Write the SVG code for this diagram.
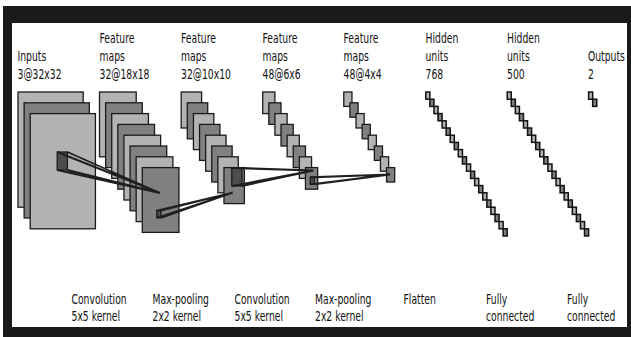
<svg xmlns="http://www.w3.org/2000/svg" width="631" height="337" viewBox="0 0 631 337">
<style>
.L{fill:#b3b3b3;stroke:#1a1a1a;stroke-width:1.3}
.M{fill:#808080;stroke:#1a1a1a;stroke-width:1.3}
.D{fill:#4d4d4d;stroke:#1a1a1a;stroke-width:1.3}
.f .L,.f .M{stroke:#111;stroke-width:1.5}
.ln{stroke:#1f1f1f;stroke-width:1.9;fill:none}
.t{font-family:"DejaVu Sans",sans-serif;font-size:13.8px;fill:#111}
</style>
<rect x="0" y="0" width="631" height="337" fill="#ffffff"/>
<path d="M3,6H631V337H3Z M12,23V327H627V23Z" fill="#1a1a1a" fill-rule="evenodd"/>

<g id="inputs">
<g transform="translate(18,92)">
<rect class="L" x="0" y="0" width="65.2" height="115.2"/>
<rect class="M" x="6.11" y="10.8" width="65.2" height="115.2"/>
<rect class="L" x="12.22" y="21.6" width="65.2" height="115.2"/>
</g>
<text class="t" transform="translate(17.5,61) scale(0.67,1)"><tspan x="0" y="0">Inputs</tspan><tspan x="0" y="18">3@32x32</tspan></text>
</g>

<g id="conv1">
<g transform="translate(99.5,92)">
<rect class="L" x="0" y="0" width="36.7" height="64.8"/>
<rect class="M" x="6.11" y="10.8" width="36.7" height="64.8"/>
<rect class="L" x="12.22" y="21.6" width="36.7" height="64.8"/>
<rect class="M" x="18.33" y="32.4" width="36.7" height="64.8"/>
<rect class="L" x="24.44" y="43.2" width="36.7" height="64.8"/>
<rect class="M" x="30.55" y="54" width="36.7" height="64.8"/>
<rect class="L" x="36.66" y="64.8" width="36.7" height="64.8"/>
<rect class="M" x="42.77" y="75.6" width="36.7" height="64.8"/>
</g>
<text class="t" transform="translate(99.5,43) scale(0.67,1)"><tspan x="0" y="0">Feature</tspan><tspan x="0" y="18">maps</tspan><tspan x="0" y="36">32@18x18</tspan></text>
</g>

<g id="pool1">
<g transform="translate(181.2,92)">
<rect class="L" x="0" y="0" width="20.4" height="36"/>
<rect class="M" x="6.11" y="10.8" width="20.4" height="36"/>
<rect class="L" x="12.22" y="21.6" width="20.4" height="36"/>
<rect class="M" x="18.33" y="32.4" width="20.4" height="36"/>
<rect class="L" x="24.44" y="43.2" width="20.4" height="36"/>
<rect class="M" x="30.55" y="54" width="20.4" height="36"/>
<rect class="L" x="36.66" y="64.8" width="20.4" height="36"/>
<rect class="M" x="42.77" y="75.6" width="20.4" height="36"/>
</g>
<text class="t" transform="translate(181,43) scale(0.67,1)"><tspan x="0" y="0">Feature</tspan><tspan x="0" y="18">maps</tspan><tspan x="0" y="36">32@10x10</tspan></text>
</g>

<g id="conv2">
<g transform="translate(262.7,92)">
<rect class="L" x="0" y="0" width="12.2" height="21.6"/>
<rect class="M" x="6.11" y="10.8" width="12.2" height="21.6"/>
<rect class="L" x="12.22" y="21.6" width="12.2" height="21.6"/>
<rect class="M" x="18.33" y="32.4" width="12.2" height="21.6"/>
<rect class="L" x="24.44" y="43.2" width="12.2" height="21.6"/>
<rect class="M" x="30.55" y="54" width="12.2" height="21.6"/>
<rect class="L" x="36.66" y="64.8" width="12.2" height="21.6"/>
<rect class="M" x="42.77" y="75.6" width="12.2" height="21.6"/>
</g>
<text class="t" transform="translate(262.5,43) scale(0.67,1)"><tspan x="0" y="0">Feature</tspan><tspan x="0" y="18">maps</tspan><tspan x="0" y="36">48@6x6</tspan></text>
</g>

<g id="pool2">
<g transform="translate(343.8,92)">
<rect class="L" x="0" y="0" width="8.15" height="14.4"/>
<rect class="M" x="6.11" y="10.8" width="8.15" height="14.4"/>
<rect class="L" x="12.22" y="21.6" width="8.15" height="14.4"/>
<rect class="M" x="18.33" y="32.4" width="8.15" height="14.4"/>
<rect class="L" x="24.44" y="43.2" width="8.15" height="14.4"/>
<rect class="M" x="30.55" y="54" width="8.15" height="14.4"/>
<rect class="L" x="36.66" y="64.8" width="8.15" height="14.4"/>
<rect class="M" x="42.77" y="75.6" width="8.15" height="14.4"/>
</g>
<text class="t" transform="translate(343.5,43) scale(0.67,1)"><tspan x="0" y="0">Feature</tspan><tspan x="0" y="18">maps</tspan><tspan x="0" y="36">48@4x4</tspan></text>
</g>

<g id="fc1" class="f">
<g transform="translate(425.8,92)">
<rect class="L" x="0" y="0" width="4.07" height="7.2"/>
<rect class="M" x="4.07" y="7.2" width="4.07" height="7.2"/>
<rect class="L" x="8.14" y="14.4" width="4.07" height="7.2"/>
<rect class="M" x="12.21" y="21.6" width="4.07" height="7.2"/>
<rect class="L" x="16.28" y="28.8" width="4.07" height="7.2"/>
<rect class="M" x="20.35" y="36" width="4.07" height="7.2"/>
<rect class="L" x="24.42" y="43.2" width="4.07" height="7.2"/>
<rect class="M" x="28.49" y="50.4" width="4.07" height="7.2"/>
<rect class="L" x="32.56" y="57.6" width="4.07" height="7.2"/>
<rect class="M" x="36.63" y="64.8" width="4.07" height="7.2"/>
<rect class="L" x="40.7" y="72" width="4.07" height="7.2"/>
<rect class="M" x="44.77" y="79.2" width="4.07" height="7.2"/>
<rect class="L" x="48.84" y="86.4" width="4.07" height="7.2"/>
<rect class="M" x="52.91" y="93.6" width="4.07" height="7.2"/>
<rect class="L" x="56.98" y="100.8" width="4.07" height="7.2"/>
<rect class="M" x="61.05" y="108" width="4.07" height="7.2"/>
<rect class="L" x="65.12" y="115.2" width="4.07" height="7.2"/>
<rect class="M" x="69.19" y="122.4" width="4.07" height="7.2"/>
<rect class="L" x="73.26" y="129.6" width="4.07" height="7.2"/>
<rect class="M" x="77.33" y="136.8" width="4.07" height="7.2"/>
</g>
<text class="t" transform="translate(425.5,43) scale(0.67,1)"><tspan x="0" y="0">Hidden</tspan><tspan x="0" y="18">units</tspan><tspan x="0" y="36">768</tspan></text>
</g>

<g id="fc2" class="f">
<g transform="translate(507.2,92)">
<rect class="L" x="0" y="0" width="4.07" height="7.2"/>
<rect class="M" x="4.07" y="7.2" width="4.07" height="7.2"/>
<rect class="L" x="8.14" y="14.4" width="4.07" height="7.2"/>
<rect class="M" x="12.21" y="21.6" width="4.07" height="7.2"/>
<rect class="L" x="16.28" y="28.8" width="4.07" height="7.2"/>
<rect class="M" x="20.35" y="36" width="4.07" height="7.2"/>
<rect class="L" x="24.42" y="43.2" width="4.07" height="7.2"/>
<rect class="M" x="28.49" y="50.4" width="4.07" height="7.2"/>
<rect class="L" x="32.56" y="57.6" width="4.07" height="7.2"/>
<rect class="M" x="36.63" y="64.8" width="4.07" height="7.2"/>
<rect class="L" x="40.7" y="72" width="4.07" height="7.2"/>
<rect class="M" x="44.77" y="79.2" width="4.07" height="7.2"/>
<rect class="L" x="48.84" y="86.4" width="4.07" height="7.2"/>
<rect class="M" x="52.91" y="93.6" width="4.07" height="7.2"/>
<rect class="L" x="56.98" y="100.8" width="4.07" height="7.2"/>
<rect class="M" x="61.05" y="108" width="4.07" height="7.2"/>
<rect class="L" x="65.12" y="115.2" width="4.07" height="7.2"/>
<rect class="M" x="69.19" y="122.4" width="4.07" height="7.2"/>
<rect class="L" x="73.26" y="129.6" width="4.07" height="7.2"/>
<rect class="M" x="77.33" y="136.8" width="4.07" height="7.2"/>
</g>
<text class="t" transform="translate(507,43) scale(0.67,1)"><tspan x="0" y="0">Hidden</tspan><tspan x="0" y="18">units</tspan><tspan x="0" y="36">500</tspan></text>
</g>

<g id="outputs" class="f">
<g transform="translate(588.6,92)">
<rect class="L" x="0" y="0" width="4.07" height="7.2"/>
<rect class="M" x="4.07" y="7.2" width="4.07" height="7.2"/>
</g>
<text class="t" transform="translate(588,61) scale(0.67,1)"><tspan x="0" y="0">Outputs</tspan><tspan x="0" y="18">2</tspan></text>
</g>

<g id="connectors">
<g id="map1">
<rect class="D" x="57.2" y="152" width="10.2" height="18"/>
<path class="ln" d="M57.2,152L160,193M67.4,152L160,193M57.2,170L160,193M67.4,170L160,193"/>
</g>
<g id="map2">
<rect class="D" x="156.8" y="210.6" width="4.07" height="7.2"/>
<path class="ln" d="M156.8,210.6L232.7,192.7M160.9,210.6L232.7,192.7M156.8,217.8L232.7,192.7M160.9,217.8L232.7,192.7"/>
</g>
<g id="map3">
<rect class="D" x="231.8" y="168" width="10.2" height="18"/>
<path class="ln" d="M231.8,168L313.5,170.5M242,168L313.5,170.5M231.8,186L313.5,170.5M242,186L313.5,170.5"/>
</g>
<g id="map4">
<rect class="D" x="310.2" y="177.2" width="4.07" height="7.2"/>
<path class="ln" d="M310.2,177.2L390,174.5M314.3,177.2L390,174.5M310.2,184.4L390,174.5M314.3,184.4L390,174.5"/>
</g>
</g>

<g id="operation-labels">
<text class="t" transform="translate(71.5,303.5) scale(0.67,1)"><tspan x="0" y="0">Convolution</tspan><tspan x="0" y="18">5x5 kernel</tspan></text>
<text class="t" transform="translate(152.5,303.5) scale(0.67,1)"><tspan x="0" y="0">Max-pooling</tspan><tspan x="0" y="18">2x2 kernel</tspan></text>
<text class="t" transform="translate(234.5,303.5) scale(0.67,1)"><tspan x="0" y="0">Convolution</tspan><tspan x="0" y="18">5x5 kernel</tspan></text>
<text class="t" transform="translate(315,303.5) scale(0.67,1)"><tspan x="0" y="0">Max-pooling</tspan><tspan x="0" y="18">2x2 kernel</tspan></text>
<text class="t" transform="translate(403.5,303.5) scale(0.67,1)"><tspan x="0" y="0">Flatten</tspan></text>
<text class="t" transform="translate(486,303.5) scale(0.67,1)"><tspan x="0" y="0">Fully</tspan><tspan x="0" y="18">connected</tspan></text>
<text class="t" transform="translate(567,303.5) scale(0.67,1)"><tspan x="0" y="0">Fully</tspan><tspan x="0" y="18">connected</tspan></text>
</g>
</svg>
